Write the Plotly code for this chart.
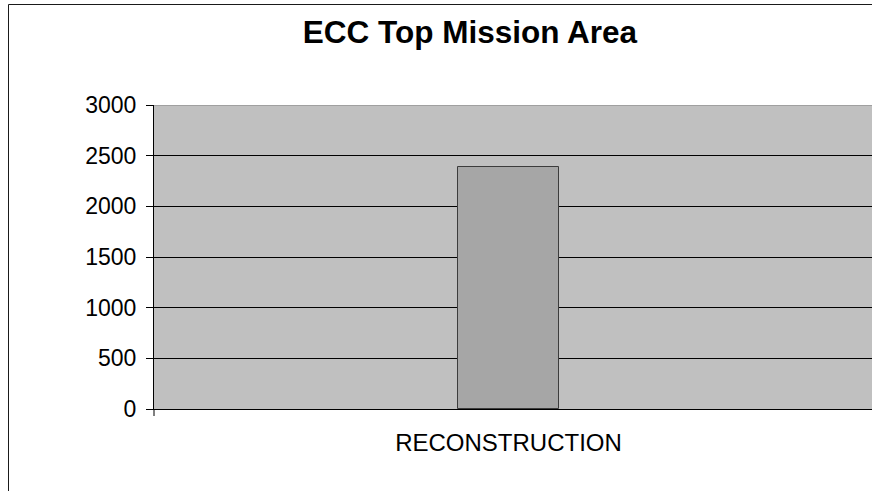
import plotly.graph_objects as go

categories = ["RECONSTRUCTION"]
values = [2385]
y_ticks = [0, 500, 1000, 1500, 2000, 2500, 3000]

fig = go.Figure()
fig.add_trace(go.Bar(
    x=categories, y=values, width=0.1425,
    marker=dict(color="#A6A6A6", line=dict(color="#3C3C3C", width=1)),
    hoverinfo="x+y",
))

W, H = 872, 491
L, R, T, B = 154, 0, 105, 82
pw, ph = W - L - R, H - T - B

fig.update_layout(
    width=W, height=H,
    margin=dict(l=L, r=R, t=T, b=B),
    paper_bgcolor="white", plot_bgcolor="#C0C0C0",
    showlegend=False,
    font=dict(family="Liberation Sans, Arial", color="black", size=23),
    title=dict(text="<b>ECC Top Mission Area</b>", font=dict(size=31.5, color="black"),
               x=470 / W, xref="container", xanchor="center",
               y=1 - 32 / H, yref="container", yanchor="middle"),
    bargap=0,
)
fig.update_yaxes(range=[0, 3000], tickvals=y_ticks, showgrid=True, gridcolor="black", gridwidth=1,
                 showline=True, linecolor="black", linewidth=1, ticks="outside", ticklen=7,
                 tickcolor="black", zeroline=False, ticklabelstandoff=5, fixedrange=True,
                 tickfont=dict(size=23))
fig.update_xaxes(range=[-0.5, 0.5127], showgrid=False, showline=True, linecolor="black", linewidth=1,
                 ticks="", ticklabelstandoff=12, fixedrange=True, tickfont=dict(size=24))

shapes = [
    # gray top border of plot area
    dict(type="line", xref="paper", yref="y", x0=0, x1=1.02, y0=3000, y1=3000,
         line=dict(color="#808080", width=1), layer="above"),
    # left category tick below x axis
    dict(type="line", xref="paper", yref="paper", x0=0, x1=0, y0=0, y1=-7 / ph,
         line=dict(color="black", width=1)),
    # outer chart frame
    dict(type="rect", xref="paper", yref="paper",
         x0=(8.5 - L) / pw, x1=1.05, y0=-(B + 10) / ph, y1=(ph + T - 4.5) / ph,
         line=dict(color="#1a1a1a", width=1), fillcolor="rgba(0,0,0,0)"),
]
fig.update_layout(shapes=shapes)

fig.write_html("out.html", config={"displayModeBar": False},
               post_script="document.body.style.margin='0';document.body.style.overflow='hidden';")
